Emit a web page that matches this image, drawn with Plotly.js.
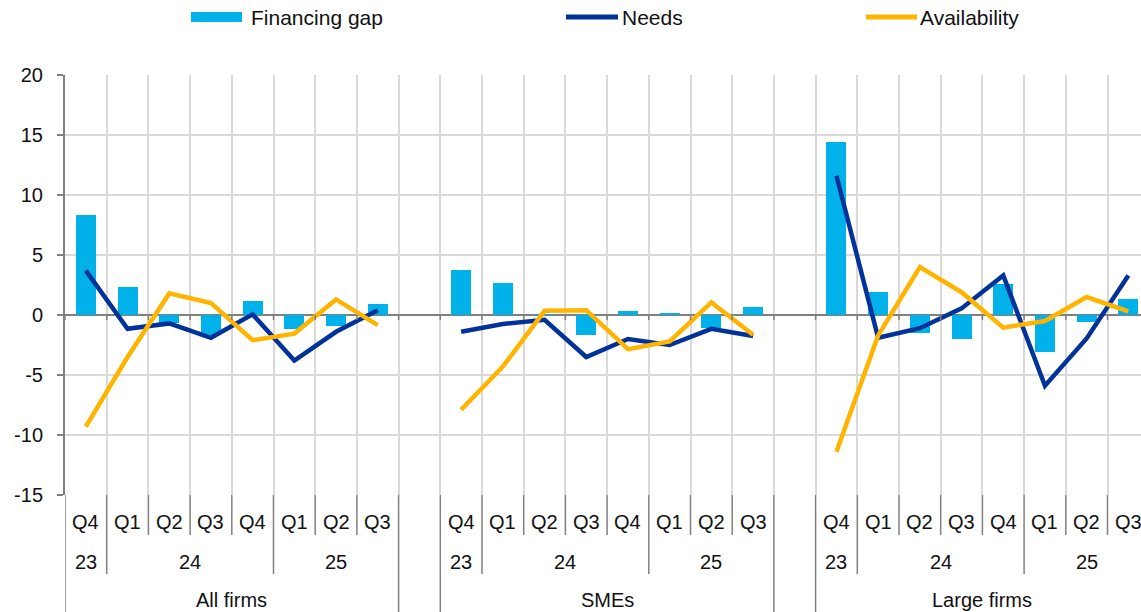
<!DOCTYPE html>
<html>
<head>
<meta charset="utf-8">
<script src="https://cdn.plot.ly/plotly-3.0.1.min.js"></script>
<style>
  html, body { margin: 0; padding: 0; background: #ffffff; }
  #chart { width: 1141px; height: 612px; }
</style>
</head>
<body>
<div id="chart"></div>
<script>
// ---------- Data ----------
const quarterLabels = ['Q4', 'Q1', 'Q2', 'Q3', 'Q4', 'Q1', 'Q2', 'Q3'];
const yearLabels = ['23', '24', '25'];
const yearQuarterCounts = [1, 4, 3];
const groupLabels = ['All firms', 'SMEs', 'Large firms'];
const seriesNames = ['Financing gap', 'Needs', 'Availability'];
const yTickValues = [-15, -10, -5, 0, 5, 10, 15, 20];
const yTickLabels = ['-15', '-10', '-5', '0', '5', '10', '15', '20'];

const gapAll     = [8.3, 2.3, -0.7, -1.7, 1.2, -1.15, -0.9, 0.9];
const needsAll   = [3.7, -1.15, -0.7, -1.9, 0.05, -3.8, -1.4, 0.4];
const availAll   = [-9.3, -3.5, 1.8, 1.0, -2.1, -1.55, 1.3, -0.85];

const gapSME     = [3.75, 2.65, 0.1, -1.65, 0.3, 0.2, -1.1, 0.7];
const needsSME   = [-1.4, -0.75, -0.4, -3.5, -2.0, -2.5, -1.15, -1.75];
const availSME   = [-7.9, -4.3, 0.35, 0.4, -2.85, -2.2, 1.05, -1.65];

const gapLarge   = [14.4, 1.9, -1.5, -2.0, 2.6, -3.1, -0.6, 1.35];
const needsLarge = [11.6, -1.9, -1.1, 0.55, 3.3, -5.9, -1.95, 3.3];
const availLarge = [-11.4, -1.7, 4.0, 1.9, -1.05, -0.5, 1.5, 0.3];

const gapByGroup = [gapAll, gapSME, gapLarge];
const needsByGroup = [needsAll, needsSME, needsLarge];
const availByGroup = [availAll, availSME, availLarge];

// ---------- Styling ----------
const W = 1141, H = 612;
const M = { l: 65, r: 0, t: 75, b: 117 };
const plotW = W - M.l - M.r, plotH = H - M.t - M.b;
const slotPx = 41.7;
const FONT = '"Liberation Sans", Arial, sans-serif';
const TXT = '#111111';
const GRID = '#d9d9d9';
const AXIS = '#808080';
const C_GAP = '#00b1ea', C_NEEDS = '#003299', C_AVAIL = '#ffb400';

const nQ = quarterLabels.length;
const stride = nQ + 1;          // one empty slot between groups
const nSlots = stride * groupLabels.length - 1;
const xMin = -0.5;
const xMax = xMin + plotW / slotPx;

const px2x = p => (p - M.l) / plotW;           // paper x from pixel
const py2y = p => (M.t + plotH - p) / plotH;   // paper y from pixel

// ---------- Traces ----------
const traces = [];
groupLabels.forEach((g, gi) => {
  const xs = quarterLabels.map((q, i) => gi * stride + i);
  traces.push({ type: 'bar', x: xs, y: gapByGroup[gi], name: seriesNames[0],
    marker: { color: C_GAP }, width: 0.48, showlegend: false, hoverinfo: 'y' });
});
groupLabels.forEach((g, gi) => {
  const xs = quarterLabels.map((q, i) => gi * stride + i);
  traces.push({ type: 'scatter', mode: 'lines', x: xs, y: needsByGroup[gi], name: seriesNames[1],
    line: { color: C_NEEDS, width: 4.5 }, showlegend: false, hoverinfo: 'y' });
});
groupLabels.forEach((g, gi) => {
  const xs = quarterLabels.map((q, i) => gi * stride + i);
  traces.push({ type: 'scatter', mode: 'lines', x: xs, y: availByGroup[gi], name: seriesNames[2],
    line: { color: C_AVAIL, width: 4.5 }, showlegend: false, hoverinfo: 'y' });
});

// ---------- Shapes & annotations ----------
const shapes = [];
const annotations = [];
const boundaries = [];
for (let k = 0; k <= nSlots + 1; k++) boundaries.push(k - 0.5);

// small ticks under the zero line at each slot boundary
boundaries.forEach(b => {
  shapes.push({ type: 'line', xref: 'x', yref: 'y', x0: b, x1: b, y0: 0, y1: -5 / (plotH / 35),
    line: { color: AXIS, width: 1.5 }, layer: 'above' });
});

const yQ = py2y(535), yYear = py2y(574), yBottom = py2y(H + 5);
groupLabels.forEach((g, gi) => {
  const s = gi * stride;
  // group edges
  [s - 0.5, s + nQ - 0.5].forEach(b => shapes.push({ type: 'line', xref: 'x', yref: 'paper',
    x0: b, x1: b, y0: 0, y1: yBottom, line: { color: AXIS, width: 1.5 } }));
  // year edges and quarter edges
  let cum = 0;
  const yearEdges = [];
  yearQuarterCounts.forEach((c, yi) => {
    if (yi > 0) yearEdges.push(s + cum - 0.5);
    annotations.push({ xref: 'x', yref: 'paper', x: s + cum + (c - 1) / 2, y: py2y(562),
      text: yearLabels[yi], showarrow: false, xanchor: 'center', yanchor: 'middle',
      font: { family: FONT, size: 20, color: TXT } });
    cum += c;
  });
  for (let i = 1; i < nQ; i++) {
    const b = s + i - 0.5;
    const isYear = yearEdges.includes(b);
    shapes.push({ type: 'line', xref: 'x', yref: 'paper', x0: b, x1: b, y0: 0,
      y1: isYear ? yYear : yQ, line: { color: AXIS, width: 1.5 } });
  }
  quarterLabels.forEach((q, i) => {
    annotations.push({ xref: 'x', yref: 'paper', x: s + i, y: py2y(522), text: q,
      showarrow: false, xanchor: 'center', yanchor: 'middle',
      font: { family: FONT, size: 20, color: TXT } });
  });
  annotations.push({ xref: 'x', yref: 'paper', x: s + (nQ - 1) / 2, y: py2y(600), text: g,
    showarrow: false, xanchor: 'center', yanchor: 'middle',
    font: { family: FONT, size: 20, color: TXT } });
});

// legend (drawn manually to match the wide symbols)
const legY = py2y(17);
shapes.push({ type: 'rect', xref: 'paper', yref: 'paper', x0: px2x(191), x1: px2x(242),
  y0: py2y(22), y1: py2y(12), fillcolor: C_GAP, line: { width: 0 } });
shapes.push({ type: 'line', xref: 'paper', yref: 'paper', x0: px2x(566), x1: px2x(618),
  y0: legY, y1: legY, line: { color: C_NEEDS, width: 5 } });
shapes.push({ type: 'line', xref: 'paper', yref: 'paper', x0: px2x(866), x1: px2x(917),
  y0: legY, y1: legY, line: { color: C_AVAIL, width: 5 } });
[[249, seriesNames[0]], [620, seriesNames[1]], [918, seriesNames[2]]].forEach(([p, t]) => {
  annotations.push({ xref: 'paper', yref: 'paper', x: px2x(p), y: legY, text: t,
    showarrow: false, xanchor: 'left', yanchor: 'middle',
    font: { family: FONT, size: 21, color: TXT } });
});

// ---------- Layout ----------
const layout = {
  width: W, height: H,
  margin: M,
  paper_bgcolor: '#ffffff', plot_bgcolor: '#ffffff',
  showlegend: false,
  bargap: 0,
  font: { family: FONT, size: 20, color: TXT },
  xaxis: {
    type: 'linear', range: [xMin, xMax], fixedrange: true,
    tickmode: 'array', tickvals: boundaries, showticklabels: false, ticks: '',
    showgrid: true, gridcolor: GRID, gridwidth: 2, zeroline: false, showline: false
  },
  yaxis: {
    range: [-15, 20], fixedrange: true,
    tickmode: 'array', tickvals: yTickValues, ticktext: yTickLabels,
    showgrid: true, gridcolor: GRID, gridwidth: 2,
    zeroline: true, zerolinecolor: AXIS, zerolinewidth: 2,
    showline: true, linecolor: AXIS, linewidth: 2,
    ticks: 'outside', ticklen: 6, tickcolor: AXIS, tickwidth: 1.5,
    ticklabelstandoff: 10,
    tickfont: { family: FONT, size: 20, color: TXT }
  },
  shapes: shapes,
  annotations: annotations
};

Plotly.newPlot('chart', traces, layout, { displayModeBar: false, staticPlot: true });
</script>
</body>
</html>
